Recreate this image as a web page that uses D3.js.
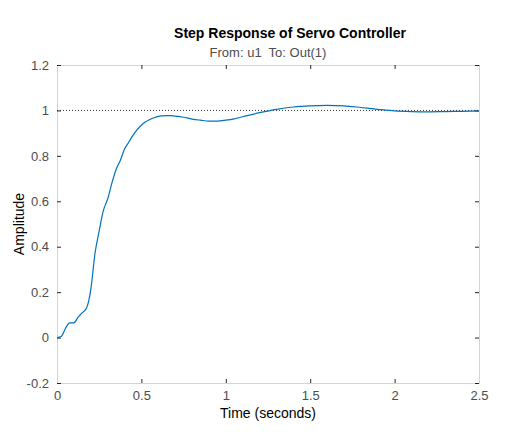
<!DOCTYPE html><html><head><meta charset="utf-8"><script src="https://cdn.jsdelivr.net/npm/d3@7"></script>
<style>body{margin:0;background:#fff}text{font-family:Arial,"Liberation Sans",sans-serif}</style></head><body><svg id="c" width="515" height="432"></svg>
<script>
const stepTimes=[0,.025,.05,.075,.1,.125,.15,.175,.2,.225,.25,.275,.3,.325,.35,.375,.4,.425,.45,.475,.5,.525,.55,.575,.6,.625,.65,.675,.7];
const stepValues=[0,.005,.04,.065,.065,.09,.11,.13,.21,.37,.47,.56,.61,.68,.74,.78,.83,.86,.89,.915,.935,.95,.96,.968,.974,.976,.977,.977,.975];
const tailTimes=[.7,.75,.8,.85,.9,.95,1,1.05,1.1,1.2,1.3,1.4,1.5,1.6,1.7,1.8,1.9,2,2.1,2.2,2.3,2.4,2.5];
const tailValues=[.975,.97,.962,.957,.953,.953,.957,.963,.972,.99,1.005,1.015,1.02,1.022,1.02,1.013,1.005,.998,.995,.994,.995,.996,.997];
const xTicks=[0,0.5,1,1.5,2,2.5], yTicks=[-0.2,0,0.2,0.4,0.6,0.8,1,1.2];
const svg=d3.select("#c");
const L=57,R=479,T=65,B=383;
const x=d3.scaleLinear().domain([0,2.5]).range([L,R]);
const y=d3.scaleLinear().domain([-0.2,1.2]).range([B,T]);
const fmt=d=>String(d);
svg.append("g").attr("transform",`translate(0,${B})`).call(d3.axisBottom(x).tickValues(xTicks).tickSize(-4).tickPadding(8).tickFormat(fmt));
svg.append("g").attr("transform",`translate(0,${T})`).call(d3.axisTop(x).tickValues(xTicks).tickSize(-4).tickFormat(""));
svg.append("g").attr("transform",`translate(${L},0)`).call(d3.axisLeft(y).tickValues(yTicks).tickSize(-4).tickPadding(8).tickFormat(fmt));
svg.append("g").attr("transform",`translate(${R},0)`).call(d3.axisRight(y).tickValues(yTicks).tickSize(-4).tickFormat(""));
svg.selectAll(".domain").attr("stroke","#d4d4d4");
svg.selectAll(".tick line").attr("stroke","#262626");
svg.selectAll(".tick text").attr("fill","#4d4d4d").style("font-size","13px").style("font-family","Arial,'Liberation Sans',sans-serif");
svg.append("line").attr("x1",L).attr("x2",R).attr("y1",y(1)).attr("y2",y(1)).attr("stroke","#000").attr("stroke-width",0.8).attr("stroke-dasharray","1,2");
const c="#0072BD";
svg.append("path").attr("d",d3.line().x(d=>x(d[0])).y(d=>y(d[1])).curve(d3.curveMonotoneX)(stepTimes.map((t,i)=>[t,stepValues[i]]))).attr("fill","none").attr("stroke",c).attr("stroke-width",1.2);
svg.append("path").attr("d",d3.line().x(d=>x(d[0])).y(d=>y(d[1])).curve(d3.curveMonotoneX)(tailTimes.map((t,i)=>[t,tailValues[i]]))).attr("fill","none").attr("stroke",c).attr("stroke-width",1.2);
svg.append("text").attr("x",290).attr("y",38).attr("text-anchor","middle").attr("font-weight","bold").attr("font-size","14px").attr("fill","#000").text("Step Response of Servo Controller");
svg.append("text").attr("x",268).attr("y",57).attr("text-anchor","middle").attr("font-size","13px").attr("fill","#4d4d4d").style("white-space","pre").text("From: u1  To: Out(1)");
svg.append("text").attr("x",268).attr("y",418).attr("text-anchor","middle").attr("font-size","14px").attr("fill","#000").text("Time (seconds)");
svg.append("text").attr("transform","translate(24,224) rotate(-90)").attr("text-anchor","middle").attr("font-size","14px").attr("fill","#000").text("Amplitude");
</script></body></html>
